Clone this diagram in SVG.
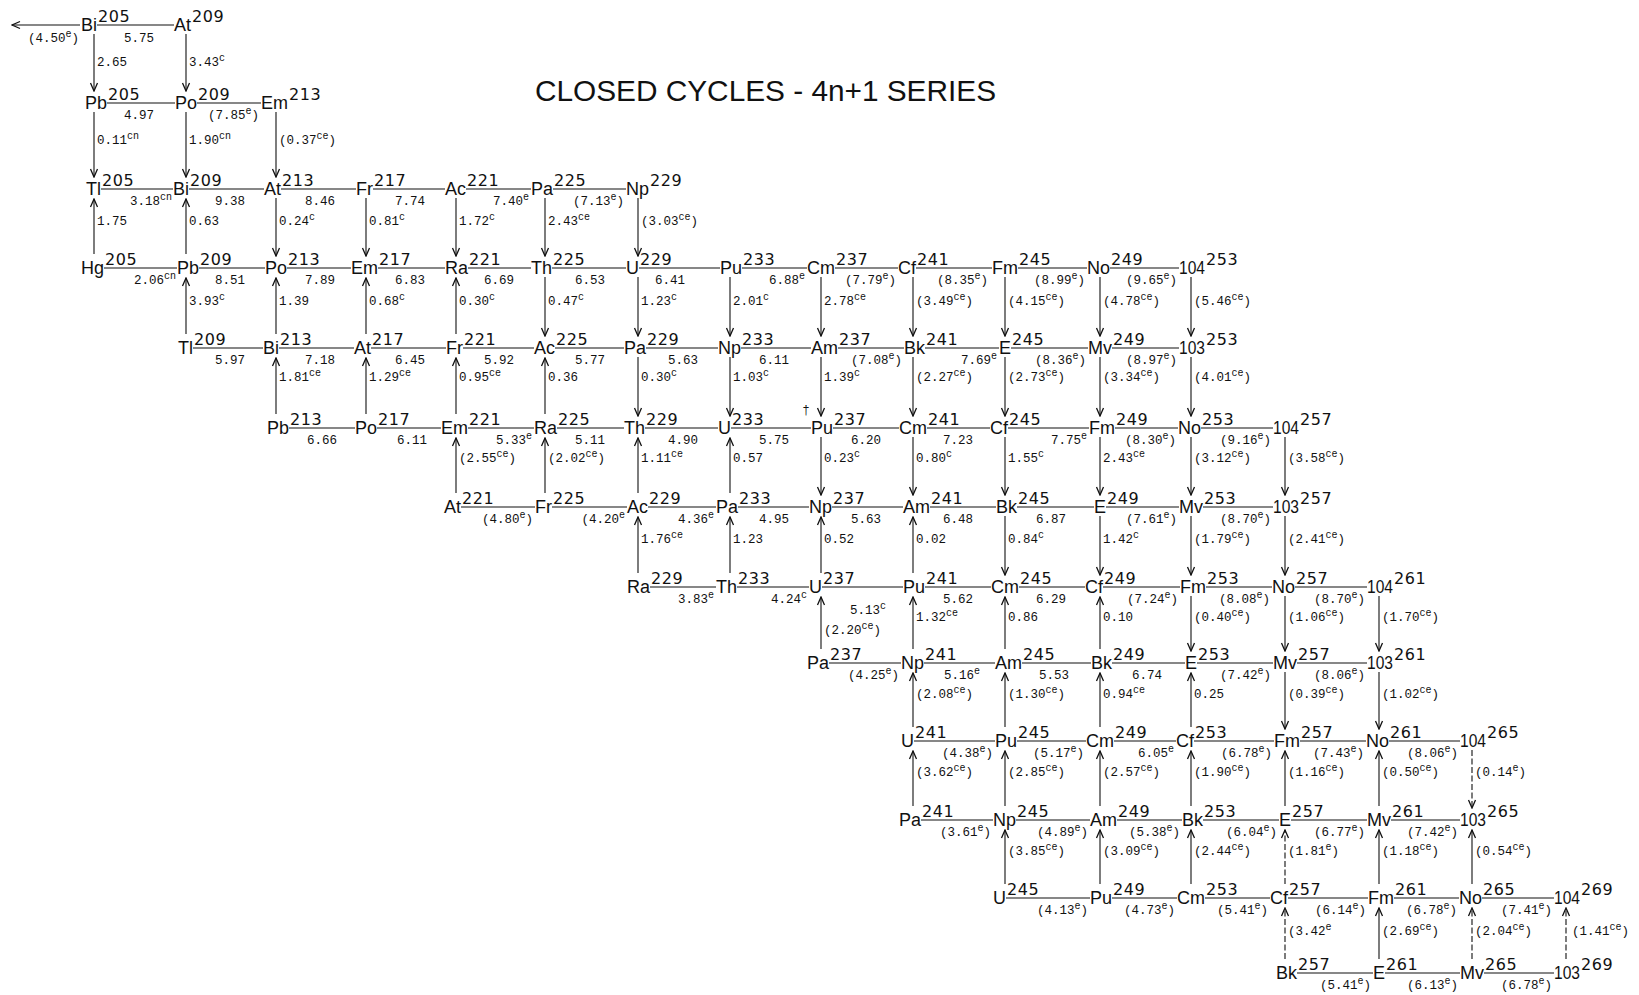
<svg xmlns="http://www.w3.org/2000/svg" width="1639" height="995" viewBox="0 0 1639 995">
<defs>
<style>
.sym{font-family:"Liberation Sans",Arial,sans-serif;font-size:18px;fill:#111}
.ms{font-family:"DejaVu Sans","Liberation Sans",sans-serif;font-size:16px;letter-spacing:0.6px;fill:#111}
.lb{font-family:"Liberation Mono","Courier New",monospace;font-size:12.5px;fill:#111}
.s{font-size:10px}
.e{text-anchor:end}
.m{text-anchor:middle}
.ln{stroke:#111;stroke-width:1.1;fill:none}
.ar{stroke:#111;stroke-width:1.1;fill:none;marker-end:url(#ah)}
.dsh{stroke-dasharray:6 2.5}
.title{font-family:"Liberation Sans",Arial,sans-serif;font-size:30px;fill:#111}
</style>
<marker id="ah" markerUnits="userSpaceOnUse" markerWidth="10" markerHeight="10" viewBox="0 0 10 10" refX="9" refY="5" orient="auto">
<path d="M1,1.5 L9,5 L1,8.5" fill="none" stroke="#111" stroke-width="1.3"/>
</marker>
</defs>
<rect width="1639" height="995" fill="#fff"/>
<text class="title" x="535" y="101" textLength="461" lengthAdjust="spacingAndGlyphs">CLOSED CYCLES - 4n+1 SERIES</text>

<g id="nodes">
<g id="Bi205"><text class="sym" x="81" y="31">Bi</text><text class="ms" x="98" y="22">205</text></g>
<g id="At209"><text class="sym" x="174" y="31">At</text><text class="ms" x="192" y="22">209</text></g>
<g id="Pb205"><text class="sym" x="85" y="109">Pb</text><text class="ms" x="108" y="100">205</text></g>
<g id="Po209"><text class="sym" x="175" y="109">Po</text><text class="ms" x="198" y="100">209</text></g>
<g id="Em213"><text class="sym" x="261" y="109">Em</text><text class="ms" x="289" y="100">213</text></g>
<g id="Tl205"><text class="sym" x="86" y="195">Tl</text><text class="ms" x="102" y="186">205</text></g>
<g id="Bi209"><text class="sym" x="173" y="195">Bi</text><text class="ms" x="190" y="186">209</text></g>
<g id="At213"><text class="sym" x="264" y="195">At</text><text class="ms" x="282" y="186">213</text></g>
<g id="Fr217"><text class="sym" x="356" y="195">Fr</text><text class="ms" x="374" y="186">217</text></g>
<g id="Ac221"><text class="sym" x="445" y="195">Ac</text><text class="ms" x="467" y="186">221</text></g>
<g id="Pa225"><text class="sym" x="531" y="195">Pa</text><text class="ms" x="554" y="186">225</text></g>
<g id="Np229"><text class="sym" x="626" y="195">Np</text><text class="ms" x="650" y="186">229</text></g>
<g id="Hg205"><text class="sym" x="81" y="274">Hg</text><text class="ms" x="105" y="265">205</text></g>
<g id="Pb209"><text class="sym" x="177" y="274">Pb</text><text class="ms" x="200" y="265">209</text></g>
<g id="Po213"><text class="sym" x="265" y="274">Po</text><text class="ms" x="288" y="265">213</text></g>
<g id="Em217"><text class="sym" x="351" y="274">Em</text><text class="ms" x="379" y="265">217</text></g>
<g id="Ra221"><text class="sym" x="445" y="274">Ra</text><text class="ms" x="469" y="265">221</text></g>
<g id="Th225"><text class="sym" x="531" y="274">Th</text><text class="ms" x="553" y="265">225</text></g>
<g id="U229"><text class="sym" x="626" y="274">U</text><text class="ms" x="640" y="265">229</text></g>
<g id="Pu233"><text class="sym" x="720" y="274">Pu</text><text class="ms" x="743" y="265">233</text></g>
<g id="Cm237"><text class="sym" x="807" y="274">Cm</text><text class="ms" x="836" y="265">237</text></g>
<g id="Cf241"><text class="sym" x="898" y="274">Cf</text><text class="ms" x="917" y="265">241</text></g>
<g id="Fm245"><text class="sym" x="992" y="274">Fm</text><text class="ms" x="1019" y="265">245</text></g>
<g id="No249"><text class="sym" x="1087" y="274">No</text><text class="ms" x="1111" y="265">249</text></g>
<g id="n104-253"><text class="sym" x="1179" y="274" textLength="26" lengthAdjust="spacingAndGlyphs">104</text><text class="ms" x="1206" y="265">253</text></g>
<g id="Tl209"><text class="sym" x="178" y="354">Tl</text><text class="ms" x="194" y="345">209</text></g>
<g id="Bi213"><text class="sym" x="263" y="354">Bi</text><text class="ms" x="280" y="345">213</text></g>
<g id="At217"><text class="sym" x="354" y="354">At</text><text class="ms" x="372" y="345">217</text></g>
<g id="Fr221"><text class="sym" x="446" y="354">Fr</text><text class="ms" x="464" y="345">221</text></g>
<g id="Ac225"><text class="sym" x="534" y="354">Ac</text><text class="ms" x="556" y="345">225</text></g>
<g id="Pa229"><text class="sym" x="624" y="354">Pa</text><text class="ms" x="647" y="345">229</text></g>
<g id="Np233"><text class="sym" x="718" y="354">Np</text><text class="ms" x="742" y="345">233</text></g>
<g id="Am237"><text class="sym" x="811" y="354">Am</text><text class="ms" x="839" y="345">237</text></g>
<g id="Bk241"><text class="sym" x="904" y="354">Bk</text><text class="ms" x="926" y="345">241</text></g>
<g id="E245"><text class="sym" x="999" y="354">E</text><text class="ms" x="1012" y="345">245</text></g>
<g id="Mv249"><text class="sym" x="1088" y="354">Mv</text><text class="ms" x="1113" y="345">249</text></g>
<g id="n103-253"><text class="sym" x="1179" y="354" textLength="26" lengthAdjust="spacingAndGlyphs">103</text><text class="ms" x="1206" y="345">253</text></g>
<g id="Pb213"><text class="sym" x="267" y="434">Pb</text><text class="ms" x="290" y="425">213</text></g>
<g id="Po217"><text class="sym" x="355" y="434">Po</text><text class="ms" x="378" y="425">217</text></g>
<g id="Em221"><text class="sym" x="441" y="434">Em</text><text class="ms" x="469" y="425">221</text></g>
<g id="Ra225"><text class="sym" x="534" y="434">Ra</text><text class="ms" x="558" y="425">225</text></g>
<g id="Th229"><text class="sym" x="624" y="434">Th</text><text class="ms" x="646" y="425">229</text></g>
<g id="U233"><text class="sym" x="718" y="434">U</text><text class="ms" x="732" y="425">233</text></g>
<g id="Pu237"><text class="lb m" x="806" y="414">†</text><text class="sym" x="811" y="434">Pu</text><text class="ms" x="834" y="425">237</text></g>
<g id="Cm241"><text class="sym" x="899" y="434">Cm</text><text class="ms" x="928" y="425">241</text></g>
<g id="Cf245"><text class="sym" x="990" y="434">Cf</text><text class="ms" x="1009" y="425">245</text></g>
<g id="Fm249"><text class="sym" x="1089" y="434">Fm</text><text class="ms" x="1116" y="425">249</text></g>
<g id="No253"><text class="sym" x="1178" y="434">No</text><text class="ms" x="1202" y="425">253</text></g>
<g id="n104-257"><text class="sym" x="1273" y="434" textLength="26" lengthAdjust="spacingAndGlyphs">104</text><text class="ms" x="1300" y="425">257</text></g>
<g id="At221"><text class="sym" x="444" y="513">At</text><text class="ms" x="462" y="504">221</text></g>
<g id="Fr225"><text class="sym" x="535" y="513">Fr</text><text class="ms" x="553" y="504">225</text></g>
<g id="Ac229"><text class="sym" x="627" y="513">Ac</text><text class="ms" x="649" y="504">229</text></g>
<g id="Pa233"><text class="sym" x="716" y="513">Pa</text><text class="ms" x="739" y="504">233</text></g>
<g id="Np237"><text class="sym" x="809" y="513">Np</text><text class="ms" x="833" y="504">237</text></g>
<g id="Am241"><text class="sym" x="903" y="513">Am</text><text class="ms" x="931" y="504">241</text></g>
<g id="Bk245"><text class="sym" x="996" y="513">Bk</text><text class="ms" x="1018" y="504">245</text></g>
<g id="E249"><text class="sym" x="1094" y="513">E</text><text class="ms" x="1107" y="504">249</text></g>
<g id="Mv253"><text class="sym" x="1179" y="513">Mv</text><text class="ms" x="1204" y="504">253</text></g>
<g id="n103-257"><text class="sym" x="1273" y="513" textLength="26" lengthAdjust="spacingAndGlyphs">103</text><text class="ms" x="1300" y="504">257</text></g>
<g id="Ra229"><text class="sym" x="627" y="593">Ra</text><text class="ms" x="651" y="584">229</text></g>
<g id="Th233"><text class="sym" x="716" y="593">Th</text><text class="ms" x="738" y="584">233</text></g>
<g id="U237"><text class="sym" x="809" y="593">U</text><text class="ms" x="823" y="584">237</text></g>
<g id="Pu241"><text class="sym" x="903" y="593">Pu</text><text class="ms" x="926" y="584">241</text></g>
<g id="Cm245"><text class="sym" x="991" y="593">Cm</text><text class="ms" x="1020" y="584">245</text></g>
<g id="Cf249"><text class="sym" x="1085" y="593">Cf</text><text class="ms" x="1104" y="584">249</text></g>
<g id="Fm253"><text class="sym" x="1180" y="593">Fm</text><text class="ms" x="1207" y="584">253</text></g>
<g id="No257"><text class="sym" x="1272" y="593">No</text><text class="ms" x="1296" y="584">257</text></g>
<g id="n104-261"><text class="sym" x="1367" y="593" textLength="26" lengthAdjust="spacingAndGlyphs">104</text><text class="ms" x="1394" y="584">261</text></g>
<g id="Pa237"><text class="sym" x="807" y="669">Pa</text><text class="ms" x="830" y="660">237</text></g>
<g id="Np241"><text class="sym" x="901" y="669">Np</text><text class="ms" x="925" y="660">241</text></g>
<g id="Am245"><text class="sym" x="995" y="669">Am</text><text class="ms" x="1023" y="660">245</text></g>
<g id="Bk249"><text class="sym" x="1091" y="669">Bk</text><text class="ms" x="1113" y="660">249</text></g>
<g id="E253"><text class="sym" x="1185" y="669">E</text><text class="ms" x="1198" y="660">253</text></g>
<g id="Mv257"><text class="sym" x="1273" y="669">Mv</text><text class="ms" x="1298" y="660">257</text></g>
<g id="n103-261"><text class="sym" x="1367" y="669" textLength="26" lengthAdjust="spacingAndGlyphs">103</text><text class="ms" x="1394" y="660">261</text></g>
<g id="U241"><text class="sym" x="901" y="747">U</text><text class="ms" x="915" y="738">241</text></g>
<g id="Pu245"><text class="sym" x="995" y="747">Pu</text><text class="ms" x="1018" y="738">245</text></g>
<g id="Cm249"><text class="sym" x="1086" y="747">Cm</text><text class="ms" x="1115" y="738">249</text></g>
<g id="Cf253"><text class="sym" x="1176" y="747">Cf</text><text class="ms" x="1195" y="738">253</text></g>
<g id="Fm257"><text class="sym" x="1274" y="747">Fm</text><text class="ms" x="1301" y="738">257</text></g>
<g id="No261"><text class="sym" x="1366" y="747">No</text><text class="ms" x="1390" y="738">261</text></g>
<g id="n104-265"><text class="sym" x="1460" y="747" textLength="26" lengthAdjust="spacingAndGlyphs">104</text><text class="ms" x="1487" y="738">265</text></g>
<g id="Pa241"><text class="sym" x="899" y="826">Pa</text><text class="ms" x="922" y="817">241</text></g>
<g id="Np245"><text class="sym" x="993" y="826">Np</text><text class="ms" x="1017" y="817">245</text></g>
<g id="Am249"><text class="sym" x="1090" y="826">Am</text><text class="ms" x="1118" y="817">249</text></g>
<g id="Bk253"><text class="sym" x="1182" y="826">Bk</text><text class="ms" x="1204" y="817">253</text></g>
<g id="E257"><text class="sym" x="1279" y="826">E</text><text class="ms" x="1292" y="817">257</text></g>
<g id="Mv261"><text class="sym" x="1367" y="826">Mv</text><text class="ms" x="1392" y="817">261</text></g>
<g id="n103-265"><text class="sym" x="1460" y="826" textLength="26" lengthAdjust="spacingAndGlyphs">103</text><text class="ms" x="1487" y="817">265</text></g>
<g id="U245"><text class="sym" x="993" y="904">U</text><text class="ms" x="1007" y="895">245</text></g>
<g id="Pu249"><text class="sym" x="1090" y="904">Pu</text><text class="ms" x="1113" y="895">249</text></g>
<g id="Cm253"><text class="sym" x="1177" y="904">Cm</text><text class="ms" x="1206" y="895">253</text></g>
<g id="Cf257"><text class="sym" x="1270" y="904">Cf</text><text class="ms" x="1289" y="895">257</text></g>
<g id="Fm261"><text class="sym" x="1368" y="904">Fm</text><text class="ms" x="1395" y="895">261</text></g>
<g id="No265"><text class="sym" x="1459" y="904">No</text><text class="ms" x="1483" y="895">265</text></g>
<g id="n104-269"><text class="sym" x="1554" y="904" textLength="26" lengthAdjust="spacingAndGlyphs">104</text><text class="ms" x="1581" y="895">269</text></g>
<g id="Bk257"><text class="sym" x="1276" y="979">Bk</text><text class="ms" x="1298" y="970">257</text></g>
<g id="E261"><text class="sym" x="1373" y="979">E</text><text class="ms" x="1386" y="970">261</text></g>
<g id="Mv265"><text class="sym" x="1460" y="979">Mv</text><text class="ms" x="1485" y="970">265</text></g>
<g id="n103-269"><text class="sym" x="1554" y="979" textLength="26" lengthAdjust="spacingAndGlyphs">103</text><text class="ms" x="1581" y="970">269</text></g>
</g>

<g id="connectors">
<path class="ar" d="M80,25 H12"/>
<path class="ln" d="M97,25 H174"/>
<path class="ln" d="M107,103 H175 M197,103 H261"/>
<path class="ln" d="M101,189 H173 M189,189 H264 M281,189 H356 M373,189 H445 M466,189 H531 M553,189 H626"/>
<path class="ln" d="M104,268 H177 M199,268 H265 M287,268 H351 M378,268 H445 M468,268 H531 M552,268 H626 M639,268 H720 M742,268 H807 M835,268 H898 M916,268 H992 M1018,268 H1087 M1110,268 H1179"/>
<path class="ln" d="M193,348 H263 M279,348 H354 M371,348 H446 M463,348 H534 M555,348 H624 M646,348 H718 M741,348 H811 M838,348 H904 M925,348 H999 M1011,348 H1088 M1112,348 H1179"/>
<path class="ln" d="M289,428 H355 M377,428 H441 M468,428 H534 M557,428 H624 M645,428 H718 M731,428 H811 M833,428 H899 M927,428 H990 M1008,428 H1089 M1115,428 H1178 M1201,428 H1273"/>
<path class="ln" d="M461,507 H535 M552,507 H627 M648,507 H716 M738,507 H809 M832,507 H903 M930,507 H996 M1017,507 H1094 M1106,507 H1179 M1203,507 H1273"/>
<path class="ln" d="M650,587 H716 M737,587 H809 M822,587 H903 M925,587 H991 M1019,587 H1085 M1103,587 H1180 M1206,587 H1272 M1295,587 H1367"/>
<path class="ln" d="M829,663 H901 M924,663 H995 M1022,663 H1091 M1112,663 H1185 M1197,663 H1273 M1297,663 H1367"/>
<path class="ln" d="M914,741 H995 M1017,741 H1086 M1114,741 H1176 M1194,741 H1274 M1300,741 H1366 M1389,741 H1460"/>
<path class="ln" d="M921,820 H993 M1016,820 H1090 M1117,820 H1182 M1203,820 H1279 M1291,820 H1367 M1391,820 H1460"/>
<path class="ln" d="M1006,898 H1090 M1112,898 H1177 M1205,898 H1270 M1288,898 H1368 M1394,898 H1459 M1482,898 H1554"/>
<path class="ln" d="M1297,973 H1373 M1385,973 H1460 M1484,973 H1554"/>
<path class="ar" d="M94,34 V91"/><path class="ar" d="M186,34 V91"/>
<path class="ar" d="M94,112 V177"/><path class="ar" d="M186,112 V177"/><path class="ar" d="M276,112 V177"/>
<path class="ar" d="M94,254 V199"/><path class="ar" d="M186,254 V199"/>
<path class="ar" d="M276,198 V256"/><path class="ar" d="M366,198 V256"/><path class="ar" d="M456,198 V256"/><path class="ar" d="M545,198 V256"/><path class="ar" d="M638,198 V256"/>
<path class="ar" d="M186,334 V278"/><path class="ar" d="M276,334 V278"/><path class="ar" d="M366,334 V278"/><path class="ar" d="M456,334 V278"/>
<path class="ar" d="M545,277 V336"/><path class="ar" d="M638,277 V336"/><path class="ar" d="M730,277 V336"/><path class="ar" d="M821,277 V336"/><path class="ar" d="M913,277 V336"/><path class="ar" d="M1005,277 V336"/><path class="ar" d="M1100,277 V336"/><path class="ar" d="M1191,277 V336"/>
<path class="ar" d="M276,414 V358"/><path class="ar" d="M366,414 V358"/><path class="ar" d="M456,414 V358"/><path class="ar" d="M545,414 V358"/>
<path class="ar" d="M638,357 V416"/><path class="ar" d="M730,357 V416"/><path class="ar" d="M821,357 V416"/><path class="ar" d="M913,357 V416"/><path class="ar" d="M1005,357 V416"/><path class="ar" d="M1100,357 V416"/><path class="ar" d="M1191,357 V416"/>
<path class="ar" d="M456,493 V438"/><path class="ar" d="M545,493 V438"/><path class="ar" d="M638,493 V438"/><path class="ar" d="M730,493 V438"/>
<path class="ar" d="M821,437 V495"/><path class="ar" d="M913,437 V495"/><path class="ar" d="M1005,437 V495"/><path class="ar" d="M1100,437 V495"/><path class="ar" d="M1191,437 V495"/><path class="ar" d="M1285,437 V495"/>
<path class="ar" d="M638,573 V517"/><path class="ar" d="M730,573 V517"/><path class="ar" d="M821,573 V517"/><path class="ar" d="M913,573 V517"/>
<path class="ar" d="M1005,516 V575"/><path class="ar" d="M1100,516 V575"/><path class="ar" d="M1191,516 V575"/><path class="ar" d="M1285,516 V575"/>
<path class="ar" d="M821,649 V597"/><path class="ar" d="M913,649 V597"/><path class="ar" d="M1005,649 V597"/><path class="ar" d="M1100,649 V597"/>
<path class="ar" d="M1191,596 V651"/><path class="ar" d="M1285,596 V651"/><path class="ar" d="M1379,596 V651"/>
<path class="ar" d="M913,727 V673"/><path class="ar" d="M1005,727 V673"/><path class="ar" d="M1100,727 V673"/><path class="ar" d="M1191,727 V673"/>
<path class="ar" d="M1285,672 V729"/><path class="ar" d="M1379,672 V729"/>
<path class="ar" d="M913,806 V751"/><path class="ar" d="M1005,806 V751"/><path class="ar" d="M1100,806 V751"/><path class="ar" d="M1191,806 V751"/><path class="ar" d="M1285,806 V751"/><path class="ar" d="M1379,806 V751"/>
<path class="ar dsh" d="M1472,750 V808"/>
<path class="ar" d="M1005,884 V830"/><path class="ar" d="M1100,884 V830"/><path class="ar" d="M1191,884 V830"/><path class="ar dsh" d="M1285,884 V830"/><path class="ar" d="M1379,884 V830"/><path class="ar" d="M1472,884 V830"/>
<path class="ar dsh" d="M1285,959 V908"/><path class="ar" d="M1379,959 V908"/><path class="ar dsh" d="M1472,959 V908"/><path class="ar dsh" d="M1566,959 V908"/>
</g>

<g id="labels">
<text class="lb e" x="79" y="42">(4.50<tspan class="s" dy="-5">e</tspan><tspan dy="5">)</tspan></text>
<text class="lb m" x="139" y="42">5.75</text>
<text class="lb m" x="139" y="119">4.97</text>
<text class="lb e" x="259" y="119">(7.85<tspan class="s" dy="-5">e</tspan><tspan dy="5">)</tspan></text>
<text class="lb e" x="172" y="205">3.18<tspan class="s" dy="-5">cn</tspan></text>
<text class="lb m" x="230" y="205">9.38</text>
<text class="lb m" x="320" y="205">8.46</text>
<text class="lb m" x="410" y="205">7.74</text>
<text class="lb e" x="529" y="205">7.40<tspan class="s" dy="-5">e</tspan></text>
<text class="lb e" x="624" y="205">(7.13<tspan class="s" dy="-5">e</tspan><tspan dy="5">)</tspan></text>
<text class="lb e" x="176" y="284">2.06<tspan class="s" dy="-5">cn</tspan></text>
<text class="lb m" x="230" y="284">8.51</text>
<text class="lb m" x="320" y="284">7.89</text>
<text class="lb m" x="410" y="284">6.83</text>
<text class="lb m" x="499" y="284">6.69</text>
<text class="lb m" x="590" y="284">6.53</text>
<text class="lb m" x="670" y="284">6.41</text>
<text class="lb e" x="805" y="284">6.88<tspan class="s" dy="-5">e</tspan></text>
<text class="lb e" x="896" y="284">(7.79<tspan class="s" dy="-5">e</tspan><tspan dy="5">)</tspan></text>
<text class="lb e" x="988" y="284">(8.35<tspan class="s" dy="-5">e</tspan><tspan dy="5">)</tspan></text>
<text class="lb e" x="1085" y="284">(8.99<tspan class="s" dy="-5">e</tspan><tspan dy="5">)</tspan></text>
<text class="lb e" x="1177" y="284">(9.65<tspan class="s" dy="-5">e</tspan><tspan dy="5">)</tspan></text>
<text class="lb m" x="230" y="364">5.97</text>
<text class="lb m" x="320" y="364">7.18</text>
<text class="lb m" x="410" y="364">6.45</text>
<text class="lb m" x="499" y="364">5.92</text>
<text class="lb m" x="590" y="364">5.77</text>
<text class="lb m" x="683" y="364">5.63</text>
<text class="lb m" x="774" y="364">6.11</text>
<text class="lb e" x="902" y="364">(7.08<tspan class="s" dy="-5">e</tspan><tspan dy="5">)</tspan></text>
<text class="lb e" x="997" y="364">7.69<tspan class="s" dy="-5">e</tspan></text>
<text class="lb e" x="1086" y="364">(8.36<tspan class="s" dy="-5">e</tspan><tspan dy="5">)</tspan></text>
<text class="lb e" x="1177" y="364">(8.97<tspan class="s" dy="-5">e</tspan><tspan dy="5">)</tspan></text>
<text class="lb m" x="322" y="444">6.66</text>
<text class="lb m" x="412" y="444">6.11</text>
<text class="lb e" x="532" y="444">5.33<tspan class="s" dy="-5">e</tspan></text>
<text class="lb m" x="590" y="444">5.11</text>
<text class="lb m" x="683" y="444">4.90</text>
<text class="lb m" x="774" y="444">5.75</text>
<text class="lb m" x="866" y="444">6.20</text>
<text class="lb m" x="958" y="444">7.23</text>
<text class="lb e" x="1087" y="444">7.75<tspan class="s" dy="-5">e</tspan></text>
<text class="lb e" x="1176" y="444">(8.30<tspan class="s" dy="-5">e</tspan><tspan dy="5">)</tspan></text>
<text class="lb e" x="1271" y="444">(9.16<tspan class="s" dy="-5">e</tspan><tspan dy="5">)</tspan></text>
<text class="lb e" x="533" y="523">(4.80<tspan class="s" dy="-5">e</tspan><tspan dy="5">)</tspan></text>
<text class="lb e" x="625" y="523">(4.20<tspan class="s" dy="-5">e</tspan></text>
<text class="lb e" x="714" y="523">4.36<tspan class="s" dy="-5">e</tspan></text>
<text class="lb m" x="774" y="523">4.95</text>
<text class="lb m" x="866" y="523">5.63</text>
<text class="lb m" x="958" y="523">6.48</text>
<text class="lb m" x="1051" y="523">6.87</text>
<text class="lb e" x="1177" y="523">(7.61<tspan class="s" dy="-5">e</tspan><tspan dy="5">)</tspan></text>
<text class="lb e" x="1271" y="523">(8.70<tspan class="s" dy="-5">e</tspan><tspan dy="5">)</tspan></text>
<text class="lb e" x="714" y="603">3.83<tspan class="s" dy="-5">e</tspan></text>
<text class="lb e" x="807" y="603">4.24<tspan class="s" dy="-5">c</tspan></text>
<text class="lb" x="850" y="614">5.13<tspan class="s" dy="-5">c</tspan></text>
<text class="lb m" x="958" y="603">5.62</text>
<text class="lb m" x="1051" y="603">6.29</text>
<text class="lb e" x="1178" y="603">(7.24<tspan class="s" dy="-5">e</tspan><tspan dy="5">)</tspan></text>
<text class="lb e" x="1270" y="603">(8.08<tspan class="s" dy="-5">e</tspan><tspan dy="5">)</tspan></text>
<text class="lb e" x="1365" y="603">(8.70<tspan class="s" dy="-5">e</tspan><tspan dy="5">)</tspan></text>
<text class="lb e" x="899" y="679">(4.25<tspan class="s" dy="-5">e</tspan><tspan dy="5">)</tspan></text>
<text class="lb e" x="980" y="679">5.16<tspan class="s" dy="-5">e</tspan></text>
<text class="lb m" x="1054" y="679">5.53</text>
<text class="lb m" x="1147" y="679">6.74</text>
<text class="lb e" x="1271" y="679">(7.42<tspan class="s" dy="-5">e</tspan><tspan dy="5">)</tspan></text>
<text class="lb e" x="1365" y="679">(8.06<tspan class="s" dy="-5">e</tspan><tspan dy="5">)</tspan></text>
<text class="lb e" x="993" y="757">(4.38<tspan class="s" dy="-5">e</tspan><tspan dy="5">)</tspan></text>
<text class="lb e" x="1084" y="757">(5.17<tspan class="s" dy="-5">e</tspan><tspan dy="5">)</tspan></text>
<text class="lb e" x="1174" y="757">6.05<tspan class="s" dy="-5">e</tspan></text>
<text class="lb e" x="1272" y="757">(6.78<tspan class="s" dy="-5">e</tspan><tspan dy="5">)</tspan></text>
<text class="lb e" x="1364" y="757">(7.43<tspan class="s" dy="-5">e</tspan><tspan dy="5">)</tspan></text>
<text class="lb e" x="1458" y="757">(8.06<tspan class="s" dy="-5">e</tspan><tspan dy="5">)</tspan></text>
<text class="lb e" x="991" y="836">(3.61<tspan class="s" dy="-5">e</tspan><tspan dy="5">)</tspan></text>
<text class="lb e" x="1088" y="836">(4.89<tspan class="s" dy="-5">e</tspan><tspan dy="5">)</tspan></text>
<text class="lb e" x="1180" y="836">(5.38<tspan class="s" dy="-5">e</tspan><tspan dy="5">)</tspan></text>
<text class="lb e" x="1277" y="836">(6.04<tspan class="s" dy="-5">e</tspan><tspan dy="5">)</tspan></text>
<text class="lb e" x="1365" y="836">(6.77<tspan class="s" dy="-5">e</tspan><tspan dy="5">)</tspan></text>
<text class="lb e" x="1458" y="836">(7.42<tspan class="s" dy="-5">e</tspan><tspan dy="5">)</tspan></text>
<text class="lb e" x="1088" y="914">(4.13<tspan class="s" dy="-5">e</tspan><tspan dy="5">)</tspan></text>
<text class="lb e" x="1175" y="914">(4.73<tspan class="s" dy="-5">e</tspan><tspan dy="5">)</tspan></text>
<text class="lb e" x="1268" y="914">(5.41<tspan class="s" dy="-5">e</tspan><tspan dy="5">)</tspan></text>
<text class="lb e" x="1366" y="914">(6.14<tspan class="s" dy="-5">e</tspan><tspan dy="5">)</tspan></text>
<text class="lb e" x="1457" y="914">(6.78<tspan class="s" dy="-5">e</tspan><tspan dy="5">)</tspan></text>
<text class="lb e" x="1552" y="914">(7.41<tspan class="s" dy="-5">e</tspan><tspan dy="5">)</tspan></text>
<text class="lb e" x="1371" y="989">(5.41<tspan class="s" dy="-5">e</tspan><tspan dy="5">)</tspan></text>
<text class="lb e" x="1458" y="989">(6.13<tspan class="s" dy="-5">e</tspan><tspan dy="5">)</tspan></text>
<text class="lb e" x="1552" y="989">(6.78<tspan class="s" dy="-5">e</tspan><tspan dy="5">)</tspan></text>
<text class="lb" x="97" y="66">2.65</text>
<text class="lb" x="189" y="66">3.43<tspan class="s" dy="-5">c</tspan></text>
<text class="lb" x="97" y="144">0.11<tspan class="s" dy="-5">cn</tspan></text>
<text class="lb" x="189" y="144">1.90<tspan class="s" dy="-5">cn</tspan></text>
<text class="lb" x="279" y="144">(0.37<tspan class="s" dy="-5">ce</tspan><tspan dy="5">)</tspan></text>
<text class="lb" x="97" y="225">1.75</text>
<text class="lb" x="189" y="225">0.63</text>
<text class="lb" x="279" y="225">0.24<tspan class="s" dy="-5">c</tspan></text>
<text class="lb" x="369" y="225">0.81<tspan class="s" dy="-5">c</tspan></text>
<text class="lb" x="459" y="225">1.72<tspan class="s" dy="-5">c</tspan></text>
<text class="lb" x="548" y="225">2.43<tspan class="s" dy="-5">ce</tspan></text>
<text class="lb" x="641" y="225">(3.03<tspan class="s" dy="-5">ce</tspan><tspan dy="5">)</tspan></text>
<text class="lb" x="189" y="305">3.93<tspan class="s" dy="-5">c</tspan></text>
<text class="lb" x="279" y="305">1.39</text>
<text class="lb" x="369" y="305">0.68<tspan class="s" dy="-5">c</tspan></text>
<text class="lb" x="459" y="305">0.30<tspan class="s" dy="-5">c</tspan></text>
<text class="lb" x="548" y="305">0.47<tspan class="s" dy="-5">c</tspan></text>
<text class="lb" x="641" y="305">1.23<tspan class="s" dy="-5">c</tspan></text>
<text class="lb" x="733" y="305">2.01<tspan class="s" dy="-5">c</tspan></text>
<text class="lb" x="824" y="305">2.78<tspan class="s" dy="-5">ce</tspan></text>
<text class="lb" x="916" y="305">(3.49<tspan class="s" dy="-5">ce</tspan><tspan dy="5">)</tspan></text>
<text class="lb" x="1008" y="305">(4.15<tspan class="s" dy="-5">ce</tspan><tspan dy="5">)</tspan></text>
<text class="lb" x="1103" y="305">(4.78<tspan class="s" dy="-5">ce</tspan><tspan dy="5">)</tspan></text>
<text class="lb" x="1194" y="305">(5.46<tspan class="s" dy="-5">ce</tspan><tspan dy="5">)</tspan></text>
<text class="lb" x="279" y="381">1.81<tspan class="s" dy="-5">ce</tspan></text>
<text class="lb" x="369" y="381">1.29<tspan class="s" dy="-5">ce</tspan></text>
<text class="lb" x="459" y="381">0.95<tspan class="s" dy="-5">ce</tspan></text>
<text class="lb" x="548" y="381">0.36</text>
<text class="lb" x="641" y="381">0.30<tspan class="s" dy="-5">c</tspan></text>
<text class="lb" x="733" y="381">1.03<tspan class="s" dy="-5">c</tspan></text>
<text class="lb" x="824" y="381">1.39<tspan class="s" dy="-5">c</tspan></text>
<text class="lb" x="916" y="381">(2.27<tspan class="s" dy="-5">ce</tspan><tspan dy="5">)</tspan></text>
<text class="lb" x="1008" y="381">(2.73<tspan class="s" dy="-5">ce</tspan><tspan dy="5">)</tspan></text>
<text class="lb" x="1103" y="381">(3.34<tspan class="s" dy="-5">ce</tspan><tspan dy="5">)</tspan></text>
<text class="lb" x="1194" y="381">(4.01<tspan class="s" dy="-5">ce</tspan><tspan dy="5">)</tspan></text>
<text class="lb" x="459" y="462">(2.55<tspan class="s" dy="-5">ce</tspan><tspan dy="5">)</tspan></text>
<text class="lb" x="548" y="462">(2.02<tspan class="s" dy="-5">ce</tspan><tspan dy="5">)</tspan></text>
<text class="lb" x="641" y="462">1.11<tspan class="s" dy="-5">ce</tspan></text>
<text class="lb" x="733" y="462">0.57</text>
<text class="lb" x="824" y="462">0.23<tspan class="s" dy="-5">c</tspan></text>
<text class="lb" x="916" y="462">0.80<tspan class="s" dy="-5">c</tspan></text>
<text class="lb" x="1008" y="462">1.55<tspan class="s" dy="-5">c</tspan></text>
<text class="lb" x="1103" y="462">2.43<tspan class="s" dy="-5">ce</tspan></text>
<text class="lb" x="1194" y="462">(3.12<tspan class="s" dy="-5">ce</tspan><tspan dy="5">)</tspan></text>
<text class="lb" x="1288" y="462">(3.58<tspan class="s" dy="-5">ce</tspan><tspan dy="5">)</tspan></text>
<text class="lb" x="641" y="543">1.76<tspan class="s" dy="-5">ce</tspan></text>
<text class="lb" x="733" y="543">1.23</text>
<text class="lb" x="824" y="543">0.52</text>
<text class="lb" x="916" y="543">0.02</text>
<text class="lb" x="1008" y="543">0.84<tspan class="s" dy="-5">c</tspan></text>
<text class="lb" x="1103" y="543">1.42<tspan class="s" dy="-5">c</tspan></text>
<text class="lb" x="1194" y="543">(1.79<tspan class="s" dy="-5">ce</tspan><tspan dy="5">)</tspan></text>
<text class="lb" x="1288" y="543">(2.41<tspan class="s" dy="-5">ce</tspan><tspan dy="5">)</tspan></text>
<text class="lb" x="824" y="634">(2.20<tspan class="s" dy="-5">ce</tspan><tspan dy="5">)</tspan></text>
<text class="lb" x="916" y="621">1.32<tspan class="s" dy="-5">ce</tspan></text>
<text class="lb" x="1008" y="621">0.86</text>
<text class="lb" x="1103" y="621">0.10</text>
<text class="lb" x="1194" y="621">(0.40<tspan class="s" dy="-5">ce</tspan><tspan dy="5">)</tspan></text>
<text class="lb" x="1288" y="621">(1.06<tspan class="s" dy="-5">ce</tspan><tspan dy="5">)</tspan></text>
<text class="lb" x="1382" y="621">(1.70<tspan class="s" dy="-5">ce</tspan><tspan dy="5">)</tspan></text>
<text class="lb" x="916" y="698">(2.08<tspan class="s" dy="-5">ce</tspan><tspan dy="5">)</tspan></text>
<text class="lb" x="1008" y="698">(1.30<tspan class="s" dy="-5">ce</tspan><tspan dy="5">)</tspan></text>
<text class="lb" x="1103" y="698">0.94<tspan class="s" dy="-5">ce</tspan></text>
<text class="lb" x="1194" y="698">0.25</text>
<text class="lb" x="1288" y="698">(0.39<tspan class="s" dy="-5">ce</tspan><tspan dy="5">)</tspan></text>
<text class="lb" x="1382" y="698">(1.02<tspan class="s" dy="-5">ce</tspan><tspan dy="5">)</tspan></text>
<text class="lb" x="916" y="776">(3.62<tspan class="s" dy="-5">ce</tspan><tspan dy="5">)</tspan></text>
<text class="lb" x="1008" y="776">(2.85<tspan class="s" dy="-5">ce</tspan><tspan dy="5">)</tspan></text>
<text class="lb" x="1103" y="776">(2.57<tspan class="s" dy="-5">ce</tspan><tspan dy="5">)</tspan></text>
<text class="lb" x="1194" y="776">(1.90<tspan class="s" dy="-5">ce</tspan><tspan dy="5">)</tspan></text>
<text class="lb" x="1288" y="776">(1.16<tspan class="s" dy="-5">ce</tspan><tspan dy="5">)</tspan></text>
<text class="lb" x="1382" y="776">(0.50<tspan class="s" dy="-5">ce</tspan><tspan dy="5">)</tspan></text>
<text class="lb" x="1475" y="776">(0.14<tspan class="s" dy="-5">e</tspan><tspan dy="5">)</tspan></text>
<text class="lb" x="1008" y="855">(3.85<tspan class="s" dy="-5">ce</tspan><tspan dy="5">)</tspan></text>
<text class="lb" x="1103" y="855">(3.09<tspan class="s" dy="-5">ce</tspan><tspan dy="5">)</tspan></text>
<text class="lb" x="1194" y="855">(2.44<tspan class="s" dy="-5">ce</tspan><tspan dy="5">)</tspan></text>
<text class="lb" x="1288" y="855">(1.81<tspan class="s" dy="-5">e</tspan><tspan dy="5">)</tspan></text>
<text class="lb" x="1382" y="855">(1.18<tspan class="s" dy="-5">ce</tspan><tspan dy="5">)</tspan></text>
<text class="lb" x="1475" y="855">(0.54<tspan class="s" dy="-5">ce</tspan><tspan dy="5">)</tspan></text>
<text class="lb" x="1288" y="935">(3.42<tspan class="s" dy="-5">e</tspan></text>
<text class="lb" x="1382" y="935">(2.69<tspan class="s" dy="-5">ce</tspan><tspan dy="5">)</tspan></text>
<text class="lb" x="1475" y="935">(2.04<tspan class="s" dy="-5">ce</tspan><tspan dy="5">)</tspan></text>
<text class="lb" x="1572" y="935">(1.41<tspan class="s" dy="-5">ce</tspan><tspan dy="5">)</tspan></text>
</g>
</svg>
